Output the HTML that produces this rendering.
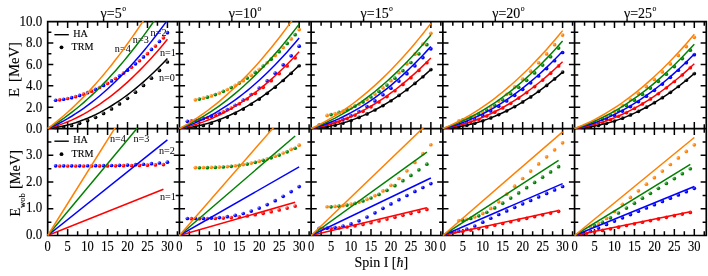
<!DOCTYPE html>
<html><head><meta charset="utf-8"><title>chart</title><style>html,body{margin:0;padding:0;background:#fff}svg{display:block;will-change:transform}text{font-family:"Liberation Serif",serif}</style></head><body>
<svg width="708" height="276" viewBox="0 0 708 276">
<rect width="708" height="276" fill="#fff"/>
<defs><radialGradient id="g0" cx="0.3" cy="0.3" r="0.45" fx="0.3" fy="0.3"><stop offset="0" stop-color="#8c8c8c"/><stop offset="1" stop-color="#000000"/></radialGradient><radialGradient id="g1" cx="0.3" cy="0.3" r="0.45" fx="0.3" fy="0.3"><stop offset="0" stop-color="#ff8c8c"/><stop offset="1" stop-color="#ff0000"/></radialGradient><radialGradient id="g2" cx="0.3" cy="0.3" r="0.45" fx="0.3" fy="0.3"><stop offset="0" stop-color="#8c8cff"/><stop offset="1" stop-color="#0000ff"/></radialGradient><radialGradient id="g3" cx="0.3" cy="0.3" r="0.45" fx="0.3" fy="0.3"><stop offset="0" stop-color="#8cc58c"/><stop offset="1" stop-color="#008000"/></radialGradient><radialGradient id="g4" cx="0.3" cy="0.3" r="0.45" fx="0.3" fy="0.3"><stop offset="0" stop-color="#ffc58c"/><stop offset="1" stop-color="#ff8000"/></radialGradient><clipPath id="ct0"><rect x="47.08" y="21" width="132.92" height="108.15"/></clipPath><clipPath id="cb0"><rect x="47.08" y="127.95" width="132.92" height="108.15"/></clipPath><clipPath id="ct1"><rect x="178.8" y="21" width="132.92" height="108.15"/></clipPath><clipPath id="cb1"><rect x="178.8" y="127.95" width="132.92" height="108.15"/></clipPath><clipPath id="ct2"><rect x="310.52" y="21" width="132.92" height="108.15"/></clipPath><clipPath id="cb2"><rect x="310.52" y="127.95" width="132.92" height="108.15"/></clipPath><clipPath id="ct3"><rect x="442.24" y="21" width="132.92" height="108.15"/></clipPath><clipPath id="cb3"><rect x="442.24" y="127.95" width="132.92" height="108.15"/></clipPath><clipPath id="ct4"><rect x="573.96" y="21" width="132.92" height="108.15"/></clipPath><clipPath id="cb4"><rect x="573.96" y="127.95" width="132.92" height="108.15"/></clipPath></defs>
<path d="M46.83 21.6L707.13 21.6M46.83 128.55L707.13 128.55M46.83 235.5L707.13 235.5M47.68 21.6L47.68 235.5M179.4 21.6L179.4 235.5M311.12 21.6L311.12 235.5M442.84 21.6L442.84 235.5M574.56 21.6L574.56 235.5M706.28 21.6L706.28 235.5" stroke="#000" stroke-width="1.7" fill="none"/><path d="M57.66 21.6L57.66 25.8M57.66 124.35L57.66 132.75M57.66 231.3L57.66 235.5M67.64 21.6L67.64 28.05M67.64 122.1L67.64 135M67.64 229.05L67.64 235.5M77.62 21.6L77.62 25.8M77.62 124.35L77.62 132.75M77.62 231.3L77.62 235.5M87.6 21.6L87.6 28.05M87.6 122.1L87.6 135M87.6 229.05L87.6 235.5M97.57 21.6L97.57 25.8M97.57 124.35L97.57 132.75M97.57 231.3L97.57 235.5M107.55 21.6L107.55 28.05M107.55 122.1L107.55 135M107.55 229.05L107.55 235.5M117.53 21.6L117.53 25.8M117.53 124.35L117.53 132.75M117.53 231.3L117.53 235.5M127.51 21.6L127.51 28.05M127.51 122.1L127.51 135M127.51 229.05L127.51 235.5M137.49 21.6L137.49 25.8M137.49 124.35L137.49 132.75M137.49 231.3L137.49 235.5M147.47 21.6L147.47 28.05M147.47 122.1L147.47 135M147.47 229.05L147.47 235.5M157.45 21.6L157.45 25.8M157.45 124.35L157.45 132.75M157.45 231.3L157.45 235.5M167.43 21.6L167.43 28.05M167.43 122.1L167.43 135M167.43 229.05L167.43 235.5M177.4 21.6L177.4 25.8M177.4 124.35L177.4 132.75M177.4 231.3L177.4 235.5M189.38 21.6L189.38 25.8M189.38 124.35L189.38 132.75M189.38 231.3L189.38 235.5M199.36 21.6L199.36 28.05M199.36 122.1L199.36 135M199.36 229.05L199.36 235.5M209.34 21.6L209.34 25.8M209.34 124.35L209.34 132.75M209.34 231.3L209.34 235.5M219.32 21.6L219.32 28.05M219.32 122.1L219.32 135M219.32 229.05L219.32 235.5M229.29 21.6L229.29 25.8M229.29 124.35L229.29 132.75M229.29 231.3L229.29 235.5M239.27 21.6L239.27 28.05M239.27 122.1L239.27 135M239.27 229.05L239.27 235.5M249.25 21.6L249.25 25.8M249.25 124.35L249.25 132.75M249.25 231.3L249.25 235.5M259.23 21.6L259.23 28.05M259.23 122.1L259.23 135M259.23 229.05L259.23 235.5M269.21 21.6L269.21 25.8M269.21 124.35L269.21 132.75M269.21 231.3L269.21 235.5M279.19 21.6L279.19 28.05M279.19 122.1L279.19 135M279.19 229.05L279.19 235.5M289.17 21.6L289.17 25.8M289.17 124.35L289.17 132.75M289.17 231.3L289.17 235.5M299.15 21.6L299.15 28.05M299.15 122.1L299.15 135M299.15 229.05L299.15 235.5M309.12 21.6L309.12 25.8M309.12 124.35L309.12 132.75M309.12 231.3L309.12 235.5M321.1 21.6L321.1 25.8M321.1 124.35L321.1 132.75M321.1 231.3L321.1 235.5M331.08 21.6L331.08 28.05M331.08 122.1L331.08 135M331.08 229.05L331.08 235.5M341.06 21.6L341.06 25.8M341.06 124.35L341.06 132.75M341.06 231.3L341.06 235.5M351.04 21.6L351.04 28.05M351.04 122.1L351.04 135M351.04 229.05L351.04 235.5M361.01 21.6L361.01 25.8M361.01 124.35L361.01 132.75M361.01 231.3L361.01 235.5M370.99 21.6L370.99 28.05M370.99 122.1L370.99 135M370.99 229.05L370.99 235.5M380.97 21.6L380.97 25.8M380.97 124.35L380.97 132.75M380.97 231.3L380.97 235.5M390.95 21.6L390.95 28.05M390.95 122.1L390.95 135M390.95 229.05L390.95 235.5M400.93 21.6L400.93 25.8M400.93 124.35L400.93 132.75M400.93 231.3L400.93 235.5M410.91 21.6L410.91 28.05M410.91 122.1L410.91 135M410.91 229.05L410.91 235.5M420.89 21.6L420.89 25.8M420.89 124.35L420.89 132.75M420.89 231.3L420.89 235.5M430.87 21.6L430.87 28.05M430.87 122.1L430.87 135M430.87 229.05L430.87 235.5M440.84 21.6L440.84 25.8M440.84 124.35L440.84 132.75M440.84 231.3L440.84 235.5M452.82 21.6L452.82 25.8M452.82 124.35L452.82 132.75M452.82 231.3L452.82 235.5M462.8 21.6L462.8 28.05M462.8 122.1L462.8 135M462.8 229.05L462.8 235.5M472.78 21.6L472.78 25.8M472.78 124.35L472.78 132.75M472.78 231.3L472.78 235.5M482.76 21.6L482.76 28.05M482.76 122.1L482.76 135M482.76 229.05L482.76 235.5M492.73 21.6L492.73 25.8M492.73 124.35L492.73 132.75M492.73 231.3L492.73 235.5M502.71 21.6L502.71 28.05M502.71 122.1L502.71 135M502.71 229.05L502.71 235.5M512.69 21.6L512.69 25.8M512.69 124.35L512.69 132.75M512.69 231.3L512.69 235.5M522.67 21.6L522.67 28.05M522.67 122.1L522.67 135M522.67 229.05L522.67 235.5M532.65 21.6L532.65 25.8M532.65 124.35L532.65 132.75M532.65 231.3L532.65 235.5M542.63 21.6L542.63 28.05M542.63 122.1L542.63 135M542.63 229.05L542.63 235.5M552.61 21.6L552.61 25.8M552.61 124.35L552.61 132.75M552.61 231.3L552.61 235.5M562.59 21.6L562.59 28.05M562.59 122.1L562.59 135M562.59 229.05L562.59 235.5M572.56 21.6L572.56 25.8M572.56 124.35L572.56 132.75M572.56 231.3L572.56 235.5M584.54 21.6L584.54 25.8M584.54 124.35L584.54 132.75M584.54 231.3L584.54 235.5M594.52 21.6L594.52 28.05M594.52 122.1L594.52 135M594.52 229.05L594.52 235.5M604.5 21.6L604.5 25.8M604.5 124.35L604.5 132.75M604.5 231.3L604.5 235.5M614.48 21.6L614.48 28.05M614.48 122.1L614.48 135M614.48 229.05L614.48 235.5M624.45 21.6L624.45 25.8M624.45 124.35L624.45 132.75M624.45 231.3L624.45 235.5M634.43 21.6L634.43 28.05M634.43 122.1L634.43 135M634.43 229.05L634.43 235.5M644.41 21.6L644.41 25.8M644.41 124.35L644.41 132.75M644.41 231.3L644.41 235.5M654.39 21.6L654.39 28.05M654.39 122.1L654.39 135M654.39 229.05L654.39 235.5M664.37 21.6L664.37 25.8M664.37 124.35L664.37 132.75M664.37 231.3L664.37 235.5M674.35 21.6L674.35 28.05M674.35 122.1L674.35 135M674.35 229.05L674.35 235.5M684.33 21.6L684.33 25.8M684.33 124.35L684.33 132.75M684.33 231.3L684.33 235.5M694.31 21.6L694.31 28.05M694.31 122.1L694.31 135M694.31 229.05L694.31 235.5M704.28 21.6L704.28 25.8M704.28 124.35L704.28 132.75M704.28 231.3L704.28 235.5M47.68 117.86L51.38 117.86M47.68 107.16L53.33 107.16M47.68 96.47L51.38 96.47M47.68 85.77L53.33 85.77M47.68 75.08L51.38 75.08M47.68 64.38L53.33 64.38M47.68 53.69L51.38 53.69M47.68 42.99L53.33 42.99M47.68 32.29L51.38 32.29M47.68 222.13L51.38 222.13M47.68 208.76L53.33 208.76M47.68 195.39L51.38 195.39M47.68 182.03L53.33 182.03M47.68 168.66L51.38 168.66M47.68 155.29L53.33 155.29M47.68 141.92L51.38 141.92M175.7 117.86L183.1 117.86M173.75 107.16L185.05 107.16M175.7 96.47L183.1 96.47M173.75 85.77L185.05 85.77M175.7 75.08L183.1 75.08M173.75 64.38L185.05 64.38M175.7 53.69L183.1 53.69M173.75 42.99L185.05 42.99M175.7 32.29L183.1 32.29M175.7 222.13L183.1 222.13M173.75 208.76L185.05 208.76M175.7 195.39L183.1 195.39M173.75 182.03L185.05 182.03M175.7 168.66L183.1 168.66M173.75 155.29L185.05 155.29M175.7 141.92L183.1 141.92M307.42 117.86L314.82 117.86M305.47 107.16L316.77 107.16M307.42 96.47L314.82 96.47M305.47 85.77L316.77 85.77M307.42 75.08L314.82 75.08M305.47 64.38L316.77 64.38M307.42 53.69L314.82 53.69M305.47 42.99L316.77 42.99M307.42 32.29L314.82 32.29M307.42 222.13L314.82 222.13M305.47 208.76L316.77 208.76M307.42 195.39L314.82 195.39M305.47 182.03L316.77 182.03M307.42 168.66L314.82 168.66M305.47 155.29L316.77 155.29M307.42 141.92L314.82 141.92M439.14 117.86L446.54 117.86M437.19 107.16L448.49 107.16M439.14 96.47L446.54 96.47M437.19 85.77L448.49 85.77M439.14 75.08L446.54 75.08M437.19 64.38L448.49 64.38M439.14 53.69L446.54 53.69M437.19 42.99L448.49 42.99M439.14 32.29L446.54 32.29M439.14 222.13L446.54 222.13M437.19 208.76L448.49 208.76M439.14 195.39L446.54 195.39M437.19 182.03L448.49 182.03M439.14 168.66L446.54 168.66M437.19 155.29L448.49 155.29M439.14 141.92L446.54 141.92M570.86 117.86L578.26 117.86M568.91 107.16L580.21 107.16M570.86 96.47L578.26 96.47M568.91 85.77L580.21 85.77M570.86 75.08L578.26 75.08M568.91 64.38L580.21 64.38M570.86 53.69L578.26 53.69M568.91 42.99L580.21 42.99M570.86 32.29L578.26 32.29M570.86 222.13L578.26 222.13M568.91 208.76L580.21 208.76M570.86 195.39L578.26 195.39M568.91 182.03L580.21 182.03M570.86 168.66L578.26 168.66M568.91 155.29L580.21 155.29M570.86 141.92L578.26 141.92M702.58 117.86L706.28 117.86M700.63 107.16L706.28 107.16M702.58 96.47L706.28 96.47M700.63 85.77L706.28 85.77M702.58 75.08L706.28 75.08M700.63 64.38L706.28 64.38M702.58 53.69L706.28 53.69M700.63 42.99L706.28 42.99M702.58 32.29L706.28 32.29M702.58 222.13L706.28 222.13M700.63 208.76L706.28 208.76M702.58 195.39L706.28 195.39M700.63 182.03L706.28 182.03M702.58 168.66L706.28 168.66M700.63 155.29L706.28 155.29M702.58 141.92L706.28 141.92" stroke="#000" stroke-width="1.5" fill="none"/>
<g fill="#000" stroke="#000" stroke-width="0.12"><text transform="translate(42.2,132.95) scale(1,1.15)" font-size="13.0" text-anchor="end">0.0</text>
<text transform="translate(42.2,111.56) scale(1,1.15)" font-size="13.0" text-anchor="end">2.0</text>
<text transform="translate(42.2,90.17) scale(1,1.15)" font-size="13.0" text-anchor="end">4.0</text>
<text transform="translate(42.2,68.78) scale(1,1.15)" font-size="13.0" text-anchor="end">6.0</text>
<text transform="translate(42.2,47.39) scale(1,1.15)" font-size="13.0" text-anchor="end">8.0</text>
<text transform="translate(42.2,26) scale(1,1.15)" font-size="13.0" text-anchor="end">10.0</text>
<text transform="translate(42.2,239.2) scale(1,1.15)" font-size="13.0" text-anchor="end">0.0</text>
<text transform="translate(42.2,212.46) scale(1,1.15)" font-size="13.0" text-anchor="end">1.0</text>
<text transform="translate(42.2,185.72) scale(1,1.15)" font-size="13.0" text-anchor="end">2.0</text>
<text transform="translate(42.2,158.99) scale(1,1.15)" font-size="13.0" text-anchor="end">3.0</text>
<text transform="translate(47.68,251.3) scale(1,1.15)" font-size="12.5" text-anchor="middle">0</text>
<text transform="translate(67.64,251.3) scale(1,1.15)" font-size="12.5" text-anchor="middle">5</text>
<text transform="translate(87.6,251.3) scale(1,1.15)" font-size="12.5" text-anchor="middle">10</text>
<text transform="translate(107.55,251.3) scale(1,1.15)" font-size="12.5" text-anchor="middle">15</text>
<text transform="translate(127.51,251.3) scale(1,1.15)" font-size="12.5" text-anchor="middle">20</text>
<text transform="translate(147.47,251.3) scale(1,1.15)" font-size="12.5" text-anchor="middle">25</text>
<text transform="translate(167.43,251.3) scale(1,1.15)" font-size="12.5" text-anchor="middle">30</text>
<text transform="translate(179.4,251.3) scale(1,1.15)" font-size="12.5" text-anchor="middle">0</text>
<text transform="translate(199.36,251.3) scale(1,1.15)" font-size="12.5" text-anchor="middle">5</text>
<text transform="translate(219.32,251.3) scale(1,1.15)" font-size="12.5" text-anchor="middle">10</text>
<text transform="translate(239.27,251.3) scale(1,1.15)" font-size="12.5" text-anchor="middle">15</text>
<text transform="translate(259.23,251.3) scale(1,1.15)" font-size="12.5" text-anchor="middle">20</text>
<text transform="translate(279.19,251.3) scale(1,1.15)" font-size="12.5" text-anchor="middle">25</text>
<text transform="translate(299.15,251.3) scale(1,1.15)" font-size="12.5" text-anchor="middle">30</text>
<text transform="translate(311.12,251.3) scale(1,1.15)" font-size="12.5" text-anchor="middle">0</text>
<text transform="translate(331.08,251.3) scale(1,1.15)" font-size="12.5" text-anchor="middle">5</text>
<text transform="translate(351.04,251.3) scale(1,1.15)" font-size="12.5" text-anchor="middle">10</text>
<text transform="translate(370.99,251.3) scale(1,1.15)" font-size="12.5" text-anchor="middle">15</text>
<text transform="translate(390.95,251.3) scale(1,1.15)" font-size="12.5" text-anchor="middle">20</text>
<text transform="translate(410.91,251.3) scale(1,1.15)" font-size="12.5" text-anchor="middle">25</text>
<text transform="translate(430.87,251.3) scale(1,1.15)" font-size="12.5" text-anchor="middle">30</text>
<text transform="translate(442.84,251.3) scale(1,1.15)" font-size="12.5" text-anchor="middle">0</text>
<text transform="translate(462.8,251.3) scale(1,1.15)" font-size="12.5" text-anchor="middle">5</text>
<text transform="translate(482.76,251.3) scale(1,1.15)" font-size="12.5" text-anchor="middle">10</text>
<text transform="translate(502.71,251.3) scale(1,1.15)" font-size="12.5" text-anchor="middle">15</text>
<text transform="translate(522.67,251.3) scale(1,1.15)" font-size="12.5" text-anchor="middle">20</text>
<text transform="translate(542.63,251.3) scale(1,1.15)" font-size="12.5" text-anchor="middle">25</text>
<text transform="translate(562.59,251.3) scale(1,1.15)" font-size="12.5" text-anchor="middle">30</text>
<text transform="translate(574.56,251.3) scale(1,1.15)" font-size="12.5" text-anchor="middle">0</text>
<text transform="translate(594.52,251.3) scale(1,1.15)" font-size="12.5" text-anchor="middle">5</text>
<text transform="translate(614.48,251.3) scale(1,1.15)" font-size="12.5" text-anchor="middle">10</text>
<text transform="translate(634.43,251.3) scale(1,1.15)" font-size="12.5" text-anchor="middle">15</text>
<text transform="translate(654.39,251.3) scale(1,1.15)" font-size="12.5" text-anchor="middle">20</text>
<text transform="translate(674.35,251.3) scale(1,1.15)" font-size="12.5" text-anchor="middle">25</text>
<text transform="translate(694.31,251.3) scale(1,1.15)" font-size="12.5" text-anchor="middle">30</text>
<text transform="translate(113.34,17.8) scale(1,1.1)" font-size="14" text-anchor="middle">γ=5<tspan font-size="7.8" dx="0.5" dy="-6.4">o</tspan></text>
<text transform="translate(245.06,17.8) scale(1,1.1)" font-size="14" text-anchor="middle">γ=10<tspan font-size="7.8" dx="0.5" dy="-6.4">o</tspan></text>
<text transform="translate(376.78,17.8) scale(1,1.1)" font-size="14" text-anchor="middle">γ=15<tspan font-size="7.8" dx="0.5" dy="-6.4">o</tspan></text>
<text transform="translate(508.5,17.8) scale(1,1.1)" font-size="14" text-anchor="middle">γ=20<tspan font-size="7.8" dx="0.5" dy="-6.4">o</tspan></text>
<text transform="translate(640.22,17.8) scale(1,1.1)" font-size="14" text-anchor="middle">γ=25<tspan font-size="7.8" dx="0.5" dy="-6.4">o</tspan></text>
<text transform="translate(381.3,266.9) scale(1,1.1)" font-size="14" text-anchor="middle">Spin I [<tspan font-style="italic">ħ</tspan>]</text>
<text transform="translate(18.6,97.0) rotate(-90) scale(1.08,1)" font-size="13.6">E</text>
<text transform="translate(18.6,82.0) rotate(-90) scale(1.08,1)" font-size="13.6">[MeV]</text>
<text transform="translate(19.7,216.4) rotate(-90)" font-size="14.2">E</text>
<text transform="translate(25.0,208.0) rotate(-90)" font-size="8.6">wob</text>
<text transform="translate(19.7,189.0) rotate(-90)" font-size="14.3">[MeV]</text>
<text transform="translate(73.2,36.5) scale(1,1.05)" font-size="10.1">HA</text>
<text transform="translate(71.5,49.9) scale(1,1.05)" font-size="10.1">TRM</text>
<text transform="translate(73.2,143) scale(1,1.05)" font-size="10.1">HA</text>
<text transform="translate(71.5,156.8) scale(1,1.05)" font-size="10.1">TRM</text>
<text transform="translate(150.6,35.7) scale(1,1.06)" font-size="10.2" stroke="none">n=2</text>
<text transform="translate(132.8,43.3) scale(1,1.06)" font-size="10.2" stroke="none">n=3</text>
<text transform="translate(114.8,51.8) scale(1,1.06)" font-size="10.2" stroke="none">n=4</text>
<text transform="translate(160,55.7) scale(1,1.06)" font-size="10.2" stroke="none">n=1</text>
<text transform="translate(159,80.8) scale(1,1.06)" font-size="10.2" stroke="none">n=0</text>
<text transform="translate(109.9,142.1) scale(1,1.06)" font-size="10.2" stroke="none">n=4</text>
<text transform="translate(133.5,142.1) scale(1,1.06)" font-size="10.2" stroke="none">n=3</text>
<text transform="translate(159,154.1) scale(1,1.06)" font-size="10.2" stroke="none">n=2</text>
<text transform="translate(160,200) scale(1,1.06)" font-size="10.2" stroke="none">n=1</text></g>
<path d="M54.4 34.7L68.8 34.7" stroke="#000" stroke-width="1.4"/>
<circle cx="61.5" cy="47.3" r="1.9" fill="#000"/>
<path d="M54.4 141.2L68.8 141.2" stroke="#000" stroke-width="1.4"/>
<circle cx="61.5" cy="154.2" r="1.9" fill="#000"/>
<g clip-path="url(#ct0)">
<circle cx="47.68" cy="128.55" r="1.85" fill="url(#g0)"/>
<circle cx="55.66" cy="128.12" r="1.85" fill="url(#g0)"/>
<circle cx="63.65" cy="127.1" r="1.85" fill="url(#g0)"/>
<circle cx="71.63" cy="125.51" r="1.85" fill="url(#g0)"/>
<circle cx="79.61" cy="123.34" r="1.85" fill="url(#g0)"/>
<circle cx="87.6" cy="120.6" r="1.85" fill="url(#g0)"/>
<circle cx="95.58" cy="117.28" r="1.85" fill="url(#g0)"/>
<circle cx="103.56" cy="113.39" r="1.85" fill="url(#g0)"/>
<circle cx="111.54" cy="108.93" r="1.85" fill="url(#g0)"/>
<circle cx="119.53" cy="103.9" r="1.85" fill="url(#g0)"/>
<circle cx="127.51" cy="98.31" r="1.85" fill="url(#g0)"/>
<circle cx="135.49" cy="92.16" r="1.85" fill="url(#g0)"/>
<circle cx="143.48" cy="85.45" r="1.85" fill="url(#g0)"/>
<circle cx="151.46" cy="78.19" r="1.85" fill="url(#g0)"/>
<circle cx="159.44" cy="70.38" r="1.85" fill="url(#g0)"/>
<circle cx="167.43" cy="62.02" r="1.85" fill="url(#g0)"/>
<circle cx="59.65" cy="99.81" r="1.85" fill="url(#g1)"/>
<circle cx="67.64" cy="98.51" r="1.85" fill="url(#g1)"/>
<circle cx="75.62" cy="96.63" r="1.85" fill="url(#g1)"/>
<circle cx="83.6" cy="94.17" r="1.85" fill="url(#g1)"/>
<circle cx="91.59" cy="91.13" r="1.85" fill="url(#g1)"/>
<circle cx="99.57" cy="87.51" r="1.85" fill="url(#g1)"/>
<circle cx="107.55" cy="83.31" r="1.85" fill="url(#g1)"/>
<circle cx="115.54" cy="78.54" r="1.85" fill="url(#g1)"/>
<circle cx="123.52" cy="73.19" r="1.85" fill="url(#g1)"/>
<circle cx="131.5" cy="67.27" r="1.85" fill="url(#g1)"/>
<circle cx="139.48" cy="60.76" r="1.85" fill="url(#g1)"/>
<circle cx="147.47" cy="53.69" r="1.85" fill="url(#g1)"/>
<circle cx="155.45" cy="46.04" r="1.85" fill="url(#g1)"/>
<circle cx="163.43" cy="37.81" r="1.85" fill="url(#g1)"/>
<circle cx="55.66" cy="100.25" r="1.85" fill="url(#g2)"/>
<circle cx="63.65" cy="99.23" r="1.85" fill="url(#g2)"/>
<circle cx="71.63" cy="97.64" r="1.85" fill="url(#g2)"/>
<circle cx="79.61" cy="95.46" r="1.85" fill="url(#g2)"/>
<circle cx="87.6" cy="92.71" r="1.85" fill="url(#g2)"/>
<circle cx="95.58" cy="89.37" r="1.85" fill="url(#g2)"/>
<circle cx="103.56" cy="85.44" r="1.85" fill="url(#g2)"/>
<circle cx="111.54" cy="80.93" r="1.85" fill="url(#g2)"/>
<circle cx="119.53" cy="75.83" r="1.85" fill="url(#g2)"/>
<circle cx="127.51" cy="70.13" r="1.85" fill="url(#g2)"/>
<circle cx="135.49" cy="63.84" r="1.85" fill="url(#g2)"/>
<circle cx="143.48" cy="56.96" r="1.85" fill="url(#g2)"/>
<circle cx="151.46" cy="49.47" r="1.85" fill="url(#g2)"/>
<circle cx="159.44" cy="41.38" r="1.85" fill="url(#g2)"/>
<circle cx="167.43" cy="32.68" r="1.85" fill="url(#g2)"/>
<circle cx="67.64" cy="14.9" r="1.85" fill="url(#g3)"/>
<circle cx="75.62" cy="13.02" r="1.85" fill="url(#g3)"/>
<circle cx="83.6" cy="10.56" r="1.85" fill="url(#g3)"/>
<circle cx="91.59" cy="7.51" r="1.85" fill="url(#g3)"/>
<circle cx="99.57" cy="3.89" r="1.85" fill="url(#g3)"/>
<circle cx="107.55" cy="-0.31" r="1.85" fill="url(#g3)"/>
<circle cx="115.54" cy="-5.09" r="1.85" fill="url(#g3)"/>
<circle cx="123.52" cy="-10.45" r="1.85" fill="url(#g3)"/>
<circle cx="131.5" cy="-16.39" r="1.85" fill="url(#g3)"/>
<circle cx="139.48" cy="-22.91" r="1.85" fill="url(#g3)"/>
<circle cx="147.47" cy="-30.01" r="1.85" fill="url(#g3)"/>
<circle cx="155.45" cy="-37.7" r="1.85" fill="url(#g3)"/>
<circle cx="163.43" cy="-45.96" r="1.85" fill="url(#g3)"/>
<circle cx="63.65" cy="15.62" r="1.85" fill="url(#g4)"/>
<circle cx="71.63" cy="14.03" r="1.85" fill="url(#g4)"/>
<circle cx="79.61" cy="11.86" r="1.85" fill="url(#g4)"/>
<circle cx="87.6" cy="9.11" r="1.85" fill="url(#g4)"/>
<circle cx="95.58" cy="5.78" r="1.85" fill="url(#g4)"/>
<circle cx="103.56" cy="1.87" r="1.85" fill="url(#g4)"/>
<circle cx="111.54" cy="-2.63" r="1.85" fill="url(#g4)"/>
<circle cx="119.53" cy="-7.7" r="1.85" fill="url(#g4)"/>
<circle cx="127.51" cy="-13.35" r="1.85" fill="url(#g4)"/>
<circle cx="135.49" cy="-19.58" r="1.85" fill="url(#g4)"/>
<circle cx="143.48" cy="-26.39" r="1.85" fill="url(#g4)"/>
<circle cx="151.46" cy="-33.78" r="1.85" fill="url(#g4)"/>
<circle cx="159.44" cy="-41.76" r="1.85" fill="url(#g4)"/>
<circle cx="167.43" cy="-50.32" r="1.85" fill="url(#g4)"/>
</g>
<g clip-path="url(#cb0)">
<circle cx="59.65" cy="166.01" r="1.85" fill="url(#g1)"/>
<circle cx="67.64" cy="166" r="1.85" fill="url(#g1)"/>
<circle cx="75.62" cy="166" r="1.85" fill="url(#g1)"/>
<circle cx="83.6" cy="165.99" r="1.85" fill="url(#g1)"/>
<circle cx="91.59" cy="165.97" r="1.85" fill="url(#g1)"/>
<circle cx="99.57" cy="165.94" r="1.85" fill="url(#g1)"/>
<circle cx="107.55" cy="165.89" r="1.85" fill="url(#g1)"/>
<circle cx="115.54" cy="165.82" r="1.85" fill="url(#g1)"/>
<circle cx="123.52" cy="165.72" r="1.85" fill="url(#g1)"/>
<circle cx="131.5" cy="165.58" r="1.85" fill="url(#g1)"/>
<circle cx="139.48" cy="165.4" r="1.85" fill="url(#g1)"/>
<circle cx="147.47" cy="165.17" r="1.85" fill="url(#g1)"/>
<circle cx="155.45" cy="164.88" r="1.85" fill="url(#g1)"/>
<circle cx="163.43" cy="164.53" r="1.85" fill="url(#g1)"/>
<circle cx="55.66" cy="165.83" r="1.85" fill="url(#g2)"/>
<circle cx="63.65" cy="165.82" r="1.85" fill="url(#g2)"/>
<circle cx="71.63" cy="165.82" r="1.85" fill="url(#g2)"/>
<circle cx="79.61" cy="165.8" r="1.85" fill="url(#g2)"/>
<circle cx="87.6" cy="165.77" r="1.85" fill="url(#g2)"/>
<circle cx="95.58" cy="165.72" r="1.85" fill="url(#g2)"/>
<circle cx="103.56" cy="165.63" r="1.85" fill="url(#g2)"/>
<circle cx="111.54" cy="165.5" r="1.85" fill="url(#g2)"/>
<circle cx="119.53" cy="165.32" r="1.85" fill="url(#g2)"/>
<circle cx="127.51" cy="165.06" r="1.85" fill="url(#g2)"/>
<circle cx="135.49" cy="164.72" r="1.85" fill="url(#g2)"/>
<circle cx="143.48" cy="164.27" r="1.85" fill="url(#g2)"/>
<circle cx="151.46" cy="163.71" r="1.85" fill="url(#g2)"/>
<circle cx="159.44" cy="163" r="1.85" fill="url(#g2)"/>
<circle cx="167.43" cy="162.15" r="1.85" fill="url(#g2)"/>
<circle cx="67.64" cy="-43.02" r="1.85" fill="url(#g3)"/>
<circle cx="75.62" cy="-43.02" r="1.85" fill="url(#g3)"/>
<circle cx="83.6" cy="-43.04" r="1.85" fill="url(#g3)"/>
<circle cx="91.59" cy="-43.06" r="1.85" fill="url(#g3)"/>
<circle cx="99.57" cy="-43.1" r="1.85" fill="url(#g3)"/>
<circle cx="107.55" cy="-43.16" r="1.85" fill="url(#g3)"/>
<circle cx="115.54" cy="-43.26" r="1.85" fill="url(#g3)"/>
<circle cx="123.52" cy="-43.39" r="1.85" fill="url(#g3)"/>
<circle cx="131.5" cy="-43.56" r="1.85" fill="url(#g3)"/>
<circle cx="139.48" cy="-43.79" r="1.85" fill="url(#g3)"/>
<circle cx="147.47" cy="-44.09" r="1.85" fill="url(#g3)"/>
<circle cx="155.45" cy="-44.46" r="1.85" fill="url(#g3)"/>
<circle cx="163.43" cy="-44.91" r="1.85" fill="url(#g3)"/>
<circle cx="63.65" cy="-43.2" r="1.85" fill="url(#g4)"/>
<circle cx="71.63" cy="-43.2" r="1.85" fill="url(#g4)"/>
<circle cx="79.61" cy="-43.21" r="1.85" fill="url(#g4)"/>
<circle cx="87.6" cy="-43.23" r="1.85" fill="url(#g4)"/>
<circle cx="95.58" cy="-43.26" r="1.85" fill="url(#g4)"/>
<circle cx="103.56" cy="-43.31" r="1.85" fill="url(#g4)"/>
<circle cx="111.54" cy="-43.38" r="1.85" fill="url(#g4)"/>
<circle cx="119.53" cy="-43.49" r="1.85" fill="url(#g4)"/>
<circle cx="127.51" cy="-43.64" r="1.85" fill="url(#g4)"/>
<circle cx="135.49" cy="-43.84" r="1.85" fill="url(#g4)"/>
<circle cx="143.48" cy="-44.1" r="1.85" fill="url(#g4)"/>
<circle cx="151.46" cy="-44.43" r="1.85" fill="url(#g4)"/>
<circle cx="159.44" cy="-44.84" r="1.85" fill="url(#g4)"/>
<circle cx="167.43" cy="-45.35" r="1.85" fill="url(#g4)"/>
</g>
<g clip-path="url(#ct1)">
<circle cx="179.4" cy="128.55" r="1.85" fill="url(#g0)"/>
<circle cx="187.38" cy="128.1" r="1.85" fill="url(#g0)"/>
<circle cx="195.37" cy="127.04" r="1.85" fill="url(#g0)"/>
<circle cx="203.35" cy="125.39" r="1.85" fill="url(#g0)"/>
<circle cx="211.33" cy="123.18" r="1.85" fill="url(#g0)"/>
<circle cx="219.32" cy="120.41" r="1.85" fill="url(#g0)"/>
<circle cx="227.3" cy="117.11" r="1.85" fill="url(#g0)"/>
<circle cx="235.28" cy="113.31" r="1.85" fill="url(#g0)"/>
<circle cx="243.26" cy="109.03" r="1.85" fill="url(#g0)"/>
<circle cx="251.25" cy="104.26" r="1.85" fill="url(#g0)"/>
<circle cx="259.23" cy="99.03" r="1.85" fill="url(#g0)"/>
<circle cx="267.21" cy="93.32" r="1.85" fill="url(#g0)"/>
<circle cx="275.2" cy="87.14" r="1.85" fill="url(#g0)"/>
<circle cx="283.18" cy="80.48" r="1.85" fill="url(#g0)"/>
<circle cx="291.16" cy="73.35" r="1.85" fill="url(#g0)"/>
<circle cx="299.15" cy="65.73" r="1.85" fill="url(#g0)"/>
<circle cx="191.37" cy="120.85" r="1.85" fill="url(#g1)"/>
<circle cx="199.36" cy="119.49" r="1.85" fill="url(#g1)"/>
<circle cx="207.34" cy="117.52" r="1.85" fill="url(#g1)"/>
<circle cx="215.32" cy="114.95" r="1.85" fill="url(#g1)"/>
<circle cx="223.31" cy="111.79" r="1.85" fill="url(#g1)"/>
<circle cx="231.29" cy="108.04" r="1.85" fill="url(#g1)"/>
<circle cx="239.27" cy="103.71" r="1.85" fill="url(#g1)"/>
<circle cx="247.26" cy="98.8" r="1.85" fill="url(#g1)"/>
<circle cx="255.24" cy="93.33" r="1.85" fill="url(#g1)"/>
<circle cx="263.22" cy="87.3" r="1.85" fill="url(#g1)"/>
<circle cx="271.2" cy="80.72" r="1.85" fill="url(#g1)"/>
<circle cx="279.19" cy="73.6" r="1.85" fill="url(#g1)"/>
<circle cx="287.17" cy="65.95" r="1.85" fill="url(#g1)"/>
<circle cx="295.15" cy="57.78" r="1.85" fill="url(#g1)"/>
<circle cx="187.38" cy="121.3" r="1.85" fill="url(#g2)"/>
<circle cx="195.37" cy="120.24" r="1.85" fill="url(#g2)"/>
<circle cx="203.35" cy="118.55" r="1.85" fill="url(#g2)"/>
<circle cx="211.33" cy="116.22" r="1.85" fill="url(#g2)"/>
<circle cx="219.32" cy="113.25" r="1.85" fill="url(#g2)"/>
<circle cx="227.3" cy="109.6" r="1.85" fill="url(#g2)"/>
<circle cx="235.28" cy="105.26" r="1.85" fill="url(#g2)"/>
<circle cx="243.26" cy="100.22" r="1.85" fill="url(#g2)"/>
<circle cx="251.25" cy="94.49" r="1.85" fill="url(#g2)"/>
<circle cx="259.23" cy="88.07" r="1.85" fill="url(#g2)"/>
<circle cx="267.21" cy="80.96" r="1.85" fill="url(#g2)"/>
<circle cx="275.2" cy="73.2" r="1.85" fill="url(#g2)"/>
<circle cx="283.18" cy="64.8" r="1.85" fill="url(#g2)"/>
<circle cx="291.16" cy="55.78" r="1.85" fill="url(#g2)"/>
<circle cx="299.15" cy="46.17" r="1.85" fill="url(#g2)"/>
<circle cx="199.36" cy="99.11" r="1.85" fill="url(#g3)"/>
<circle cx="207.34" cy="97.14" r="1.85" fill="url(#g3)"/>
<circle cx="215.32" cy="94.55" r="1.85" fill="url(#g3)"/>
<circle cx="223.31" cy="91.35" r="1.85" fill="url(#g3)"/>
<circle cx="231.29" cy="87.54" r="1.85" fill="url(#g3)"/>
<circle cx="239.27" cy="83.11" r="1.85" fill="url(#g3)"/>
<circle cx="247.26" cy="78.07" r="1.85" fill="url(#g3)"/>
<circle cx="255.24" cy="72.4" r="1.85" fill="url(#g3)"/>
<circle cx="263.22" cy="66.1" r="1.85" fill="url(#g3)"/>
<circle cx="271.2" cy="59.18" r="1.85" fill="url(#g3)"/>
<circle cx="279.19" cy="51.63" r="1.85" fill="url(#g3)"/>
<circle cx="287.17" cy="43.44" r="1.85" fill="url(#g3)"/>
<circle cx="295.15" cy="34.63" r="1.85" fill="url(#g3)"/>
<circle cx="195.37" cy="99.87" r="1.85" fill="url(#g4)"/>
<circle cx="203.35" cy="98.2" r="1.85" fill="url(#g4)"/>
<circle cx="211.33" cy="95.92" r="1.85" fill="url(#g4)"/>
<circle cx="219.32" cy="93.03" r="1.85" fill="url(#g4)"/>
<circle cx="227.3" cy="89.52" r="1.85" fill="url(#g4)"/>
<circle cx="235.28" cy="85.4" r="1.85" fill="url(#g4)"/>
<circle cx="243.26" cy="80.66" r="1.85" fill="url(#g4)"/>
<circle cx="251.25" cy="75.3" r="1.85" fill="url(#g4)"/>
<circle cx="259.23" cy="69.31" r="1.85" fill="url(#g4)"/>
<circle cx="267.21" cy="62.68" r="1.85" fill="url(#g4)"/>
<circle cx="275.2" cy="55.41" r="1.85" fill="url(#g4)"/>
<circle cx="283.18" cy="47.48" r="1.85" fill="url(#g4)"/>
<circle cx="291.16" cy="38.88" r="1.85" fill="url(#g4)"/>
<circle cx="299.15" cy="29.6" r="1.85" fill="url(#g4)"/>
</g>
<g clip-path="url(#cb1)">
<circle cx="191.37" cy="218.71" r="1.85" fill="url(#g1)"/>
<circle cx="199.36" cy="218.67" r="1.85" fill="url(#g1)"/>
<circle cx="207.34" cy="218.59" r="1.85" fill="url(#g1)"/>
<circle cx="215.32" cy="218.4" r="1.85" fill="url(#g1)"/>
<circle cx="223.31" cy="218.08" r="1.85" fill="url(#g1)"/>
<circle cx="231.29" cy="217.57" r="1.85" fill="url(#g1)"/>
<circle cx="239.27" cy="216.85" r="1.85" fill="url(#g1)"/>
<circle cx="247.26" cy="215.89" r="1.85" fill="url(#g1)"/>
<circle cx="255.24" cy="214.71" r="1.85" fill="url(#g1)"/>
<circle cx="263.22" cy="213.31" r="1.85" fill="url(#g1)"/>
<circle cx="271.2" cy="211.72" r="1.85" fill="url(#g1)"/>
<circle cx="279.19" cy="209.97" r="1.85" fill="url(#g1)"/>
<circle cx="287.17" cy="208.08" r="1.85" fill="url(#g1)"/>
<circle cx="295.15" cy="206.09" r="1.85" fill="url(#g1)"/>
<circle cx="187.38" cy="218.52" r="1.85" fill="url(#g2)"/>
<circle cx="195.37" cy="218.49" r="1.85" fill="url(#g2)"/>
<circle cx="203.35" cy="218.39" r="1.85" fill="url(#g2)"/>
<circle cx="211.33" cy="218.12" r="1.85" fill="url(#g2)"/>
<circle cx="219.32" cy="217.6" r="1.85" fill="url(#g2)"/>
<circle cx="227.3" cy="216.71" r="1.85" fill="url(#g2)"/>
<circle cx="235.28" cy="215.37" r="1.85" fill="url(#g2)"/>
<circle cx="243.26" cy="213.49" r="1.85" fill="url(#g2)"/>
<circle cx="251.25" cy="211.07" r="1.85" fill="url(#g2)"/>
<circle cx="259.23" cy="208.09" r="1.85" fill="url(#g2)"/>
<circle cx="267.21" cy="204.61" r="1.85" fill="url(#g2)"/>
<circle cx="275.2" cy="200.65" r="1.85" fill="url(#g2)"/>
<circle cx="283.18" cy="196.28" r="1.85" fill="url(#g2)"/>
<circle cx="291.16" cy="191.57" r="1.85" fill="url(#g2)"/>
<circle cx="299.15" cy="186.59" r="1.85" fill="url(#g2)"/>
<circle cx="199.36" cy="167.74" r="1.85" fill="url(#g3)"/>
<circle cx="207.34" cy="167.63" r="1.85" fill="url(#g3)"/>
<circle cx="215.32" cy="167.4" r="1.85" fill="url(#g3)"/>
<circle cx="223.31" cy="166.99" r="1.85" fill="url(#g3)"/>
<circle cx="231.29" cy="166.33" r="1.85" fill="url(#g3)"/>
<circle cx="239.27" cy="165.36" r="1.85" fill="url(#g3)"/>
<circle cx="247.26" cy="164.05" r="1.85" fill="url(#g3)"/>
<circle cx="255.24" cy="162.37" r="1.85" fill="url(#g3)"/>
<circle cx="263.22" cy="160.31" r="1.85" fill="url(#g3)"/>
<circle cx="271.2" cy="157.87" r="1.85" fill="url(#g3)"/>
<circle cx="279.19" cy="155.03" r="1.85" fill="url(#g3)"/>
<circle cx="287.17" cy="151.82" r="1.85" fill="url(#g3)"/>
<circle cx="295.15" cy="148.23" r="1.85" fill="url(#g3)"/>
<circle cx="195.37" cy="167.58" r="1.85" fill="url(#g4)"/>
<circle cx="203.35" cy="167.52" r="1.85" fill="url(#g4)"/>
<circle cx="211.33" cy="167.36" r="1.85" fill="url(#g4)"/>
<circle cx="219.32" cy="167.06" r="1.85" fill="url(#g4)"/>
<circle cx="227.3" cy="166.53" r="1.85" fill="url(#g4)"/>
<circle cx="235.28" cy="165.73" r="1.85" fill="url(#g4)"/>
<circle cx="243.26" cy="164.59" r="1.85" fill="url(#g4)"/>
<circle cx="251.25" cy="163.09" r="1.85" fill="url(#g4)"/>
<circle cx="259.23" cy="161.2" r="1.85" fill="url(#g4)"/>
<circle cx="267.21" cy="158.9" r="1.85" fill="url(#g4)"/>
<circle cx="275.2" cy="156.17" r="1.85" fill="url(#g4)"/>
<circle cx="283.18" cy="152.99" r="1.85" fill="url(#g4)"/>
<circle cx="291.16" cy="149.34" r="1.85" fill="url(#g4)"/>
<circle cx="299.15" cy="145.17" r="1.85" fill="url(#g4)"/>
</g>
<g clip-path="url(#ct2)">
<circle cx="311.12" cy="128.55" r="1.85" fill="url(#g0)"/>
<circle cx="319.1" cy="128.06" r="1.85" fill="url(#g0)"/>
<circle cx="327.09" cy="126.95" r="1.85" fill="url(#g0)"/>
<circle cx="335.07" cy="125.27" r="1.85" fill="url(#g0)"/>
<circle cx="343.05" cy="123.11" r="1.85" fill="url(#g0)"/>
<circle cx="351.04" cy="120.5" r="1.85" fill="url(#g0)"/>
<circle cx="359.02" cy="117.45" r="1.85" fill="url(#g0)"/>
<circle cx="367" cy="113.96" r="1.85" fill="url(#g0)"/>
<circle cx="374.98" cy="110.01" r="1.85" fill="url(#g0)"/>
<circle cx="382.97" cy="105.61" r="1.85" fill="url(#g0)"/>
<circle cx="390.95" cy="100.75" r="1.85" fill="url(#g0)"/>
<circle cx="398.93" cy="95.44" r="1.85" fill="url(#g0)"/>
<circle cx="406.92" cy="89.67" r="1.85" fill="url(#g0)"/>
<circle cx="414.9" cy="83.44" r="1.85" fill="url(#g0)"/>
<circle cx="422.88" cy="76.75" r="1.85" fill="url(#g0)"/>
<circle cx="430.87" cy="69.6" r="1.85" fill="url(#g0)"/>
<circle cx="323.09" cy="124.7" r="1.85" fill="url(#g1)"/>
<circle cx="331.08" cy="123.23" r="1.85" fill="url(#g1)"/>
<circle cx="339.06" cy="121.13" r="1.85" fill="url(#g1)"/>
<circle cx="347.04" cy="118.41" r="1.85" fill="url(#g1)"/>
<circle cx="355.03" cy="115.11" r="1.85" fill="url(#g1)"/>
<circle cx="363.01" cy="111.25" r="1.85" fill="url(#g1)"/>
<circle cx="370.99" cy="106.87" r="1.85" fill="url(#g1)"/>
<circle cx="378.98" cy="101.98" r="1.85" fill="url(#g1)"/>
<circle cx="386.96" cy="96.61" r="1.85" fill="url(#g1)"/>
<circle cx="394.94" cy="90.76" r="1.85" fill="url(#g1)"/>
<circle cx="402.92" cy="84.45" r="1.85" fill="url(#g1)"/>
<circle cx="410.91" cy="77.68" r="1.85" fill="url(#g1)"/>
<circle cx="418.89" cy="70.45" r="1.85" fill="url(#g1)"/>
<circle cx="426.87" cy="62.76" r="1.85" fill="url(#g1)"/>
<circle cx="319.1" cy="125.19" r="1.85" fill="url(#g2)"/>
<circle cx="327.09" cy="124.01" r="1.85" fill="url(#g2)"/>
<circle cx="335.07" cy="122.08" r="1.85" fill="url(#g2)"/>
<circle cx="343.05" cy="119.37" r="1.85" fill="url(#g2)"/>
<circle cx="351.04" cy="115.85" r="1.85" fill="url(#g2)"/>
<circle cx="359.02" cy="111.56" r="1.85" fill="url(#g2)"/>
<circle cx="367" cy="106.56" r="1.85" fill="url(#g2)"/>
<circle cx="374.98" cy="100.93" r="1.85" fill="url(#g2)"/>
<circle cx="382.97" cy="94.76" r="1.85" fill="url(#g2)"/>
<circle cx="390.95" cy="88.13" r="1.85" fill="url(#g2)"/>
<circle cx="398.93" cy="81.1" r="1.85" fill="url(#g2)"/>
<circle cx="406.92" cy="73.66" r="1.85" fill="url(#g2)"/>
<circle cx="414.9" cy="65.82" r="1.85" fill="url(#g2)"/>
<circle cx="422.88" cy="57.54" r="1.85" fill="url(#g2)"/>
<circle cx="430.87" cy="48.82" r="1.85" fill="url(#g2)"/>
<circle cx="331.08" cy="114.62" r="1.85" fill="url(#g3)"/>
<circle cx="339.06" cy="112.46" r="1.85" fill="url(#g3)"/>
<circle cx="347.04" cy="109.63" r="1.85" fill="url(#g3)"/>
<circle cx="355.03" cy="106.11" r="1.85" fill="url(#g3)"/>
<circle cx="363.01" cy="101.89" r="1.85" fill="url(#g3)"/>
<circle cx="370.99" cy="96.98" r="1.85" fill="url(#g3)"/>
<circle cx="378.98" cy="91.38" r="1.85" fill="url(#g3)"/>
<circle cx="386.96" cy="85.11" r="1.85" fill="url(#g3)"/>
<circle cx="394.94" cy="78.18" r="1.85" fill="url(#g3)"/>
<circle cx="402.92" cy="70.64" r="1.85" fill="url(#g3)"/>
<circle cx="410.91" cy="62.51" r="1.85" fill="url(#g3)"/>
<circle cx="418.89" cy="53.84" r="1.85" fill="url(#g3)"/>
<circle cx="426.87" cy="44.65" r="1.85" fill="url(#g3)"/>
<circle cx="327.09" cy="115.45" r="1.85" fill="url(#g4)"/>
<circle cx="335.07" cy="113.63" r="1.85" fill="url(#g4)"/>
<circle cx="343.05" cy="111.13" r="1.85" fill="url(#g4)"/>
<circle cx="351.04" cy="107.95" r="1.85" fill="url(#g4)"/>
<circle cx="359.02" cy="104.06" r="1.85" fill="url(#g4)"/>
<circle cx="367" cy="99.44" r="1.85" fill="url(#g4)"/>
<circle cx="374.98" cy="94.03" r="1.85" fill="url(#g4)"/>
<circle cx="382.97" cy="87.78" r="1.85" fill="url(#g4)"/>
<circle cx="390.95" cy="80.65" r="1.85" fill="url(#g4)"/>
<circle cx="398.93" cy="72.64" r="1.85" fill="url(#g4)"/>
<circle cx="406.92" cy="63.8" r="1.85" fill="url(#g4)"/>
<circle cx="414.9" cy="54.22" r="1.85" fill="url(#g4)"/>
<circle cx="422.88" cy="44.01" r="1.85" fill="url(#g4)"/>
<circle cx="430.87" cy="33.29" r="1.85" fill="url(#g4)"/>
</g>
<g clip-path="url(#cb2)">
<circle cx="323.09" cy="228.49" r="1.85" fill="url(#g1)"/>
<circle cx="331.08" cy="228.3" r="1.85" fill="url(#g1)"/>
<circle cx="339.06" cy="227.84" r="1.85" fill="url(#g1)"/>
<circle cx="347.04" cy="227.01" r="1.85" fill="url(#g1)"/>
<circle cx="355.03" cy="225.84" r="1.85" fill="url(#g1)"/>
<circle cx="363.01" cy="224.38" r="1.85" fill="url(#g1)"/>
<circle cx="370.99" cy="222.71" r="1.85" fill="url(#g1)"/>
<circle cx="378.98" cy="220.92" r="1.85" fill="url(#g1)"/>
<circle cx="386.96" cy="219.06" r="1.85" fill="url(#g1)"/>
<circle cx="394.94" cy="217.16" r="1.85" fill="url(#g1)"/>
<circle cx="402.92" cy="215.24" r="1.85" fill="url(#g1)"/>
<circle cx="410.91" cy="213.32" r="1.85" fill="url(#g1)"/>
<circle cx="418.89" cy="211.39" r="1.85" fill="url(#g1)"/>
<circle cx="426.87" cy="209.46" r="1.85" fill="url(#g1)"/>
<circle cx="319.1" cy="228.33" r="1.85" fill="url(#g2)"/>
<circle cx="327.09" cy="228.15" r="1.85" fill="url(#g2)"/>
<circle cx="335.07" cy="227.53" r="1.85" fill="url(#g2)"/>
<circle cx="343.05" cy="226.16" r="1.85" fill="url(#g2)"/>
<circle cx="351.04" cy="223.89" r="1.85" fill="url(#g2)"/>
<circle cx="359.02" cy="220.79" r="1.85" fill="url(#g2)"/>
<circle cx="367" cy="217.02" r="1.85" fill="url(#g2)"/>
<circle cx="374.98" cy="212.79" r="1.85" fill="url(#g2)"/>
<circle cx="382.97" cy="208.36" r="1.85" fill="url(#g2)"/>
<circle cx="390.95" cy="203.94" r="1.85" fill="url(#g2)"/>
<circle cx="398.93" cy="199.64" r="1.85" fill="url(#g2)"/>
<circle cx="406.92" cy="195.49" r="1.85" fill="url(#g2)"/>
<circle cx="414.9" cy="191.45" r="1.85" fill="url(#g2)"/>
<circle cx="422.88" cy="187.48" r="1.85" fill="url(#g2)"/>
<circle cx="430.87" cy="183.56" r="1.85" fill="url(#g2)"/>
<circle cx="331.08" cy="206.78" r="1.85" fill="url(#g3)"/>
<circle cx="339.06" cy="206.18" r="1.85" fill="url(#g3)"/>
<circle cx="347.04" cy="205.06" r="1.85" fill="url(#g3)"/>
<circle cx="355.03" cy="203.33" r="1.85" fill="url(#g3)"/>
<circle cx="363.01" cy="200.98" r="1.85" fill="url(#g3)"/>
<circle cx="370.99" cy="198" r="1.85" fill="url(#g3)"/>
<circle cx="378.98" cy="194.43" r="1.85" fill="url(#g3)"/>
<circle cx="386.96" cy="190.31" r="1.85" fill="url(#g3)"/>
<circle cx="394.94" cy="185.71" r="1.85" fill="url(#g3)"/>
<circle cx="402.92" cy="180.71" r="1.85" fill="url(#g3)"/>
<circle cx="410.91" cy="175.4" r="1.85" fill="url(#g3)"/>
<circle cx="418.89" cy="169.86" r="1.85" fill="url(#g3)"/>
<circle cx="426.87" cy="164.18" r="1.85" fill="url(#g3)"/>
<circle cx="327.09" cy="206.75" r="1.85" fill="url(#g4)"/>
<circle cx="335.07" cy="206.38" r="1.85" fill="url(#g4)"/>
<circle cx="343.05" cy="205.55" r="1.85" fill="url(#g4)"/>
<circle cx="351.04" cy="204.12" r="1.85" fill="url(#g4)"/>
<circle cx="359.02" cy="202.03" r="1.85" fill="url(#g4)"/>
<circle cx="367" cy="199.2" r="1.85" fill="url(#g4)"/>
<circle cx="374.98" cy="195.54" r="1.85" fill="url(#g4)"/>
<circle cx="382.97" cy="190.92" r="1.85" fill="url(#g4)"/>
<circle cx="390.95" cy="185.24" r="1.85" fill="url(#g4)"/>
<circle cx="398.93" cy="178.5" r="1.85" fill="url(#g4)"/>
<circle cx="406.92" cy="170.83" r="1.85" fill="url(#g4)"/>
<circle cx="414.9" cy="162.46" r="1.85" fill="url(#g4)"/>
<circle cx="422.88" cy="153.66" r="1.85" fill="url(#g4)"/>
<circle cx="430.87" cy="144.73" r="1.85" fill="url(#g4)"/>
</g>
<g clip-path="url(#ct3)">
<circle cx="442.84" cy="128.55" r="1.85" fill="url(#g0)"/>
<circle cx="450.82" cy="128.01" r="1.85" fill="url(#g0)"/>
<circle cx="458.81" cy="126.86" r="1.85" fill="url(#g0)"/>
<circle cx="466.79" cy="125.26" r="1.85" fill="url(#g0)"/>
<circle cx="474.77" cy="123.24" r="1.85" fill="url(#g0)"/>
<circle cx="482.76" cy="120.8" r="1.85" fill="url(#g0)"/>
<circle cx="490.74" cy="117.91" r="1.85" fill="url(#g0)"/>
<circle cx="498.72" cy="114.59" r="1.85" fill="url(#g0)"/>
<circle cx="506.7" cy="110.82" r="1.85" fill="url(#g0)"/>
<circle cx="514.69" cy="106.62" r="1.85" fill="url(#g0)"/>
<circle cx="522.67" cy="101.97" r="1.85" fill="url(#g0)"/>
<circle cx="530.65" cy="96.88" r="1.85" fill="url(#g0)"/>
<circle cx="538.64" cy="91.35" r="1.85" fill="url(#g0)"/>
<circle cx="546.62" cy="85.38" r="1.85" fill="url(#g0)"/>
<circle cx="554.6" cy="78.97" r="1.85" fill="url(#g0)"/>
<circle cx="562.59" cy="72.12" r="1.85" fill="url(#g0)"/>
<circle cx="454.81" cy="125.98" r="1.85" fill="url(#g1)"/>
<circle cx="462.8" cy="124.36" r="1.85" fill="url(#g1)"/>
<circle cx="470.78" cy="122.09" r="1.85" fill="url(#g1)"/>
<circle cx="478.76" cy="119.26" r="1.85" fill="url(#g1)"/>
<circle cx="486.75" cy="115.93" r="1.85" fill="url(#g1)"/>
<circle cx="494.73" cy="112.14" r="1.85" fill="url(#g1)"/>
<circle cx="502.71" cy="107.91" r="1.85" fill="url(#g1)"/>
<circle cx="510.7" cy="103.23" r="1.85" fill="url(#g1)"/>
<circle cx="518.68" cy="98.11" r="1.85" fill="url(#g1)"/>
<circle cx="526.66" cy="92.55" r="1.85" fill="url(#g1)"/>
<circle cx="534.64" cy="86.54" r="1.85" fill="url(#g1)"/>
<circle cx="542.63" cy="80.1" r="1.85" fill="url(#g1)"/>
<circle cx="550.61" cy="73.22" r="1.85" fill="url(#g1)"/>
<circle cx="558.59" cy="65.9" r="1.85" fill="url(#g1)"/>
<circle cx="450.82" cy="126.53" r="1.85" fill="url(#g2)"/>
<circle cx="458.81" cy="125.1" r="1.85" fill="url(#g2)"/>
<circle cx="466.79" cy="122.72" r="1.85" fill="url(#g2)"/>
<circle cx="474.77" cy="119.45" r="1.85" fill="url(#g2)"/>
<circle cx="482.76" cy="115.47" r="1.85" fill="url(#g2)"/>
<circle cx="490.74" cy="111.01" r="1.85" fill="url(#g2)"/>
<circle cx="498.72" cy="106.18" r="1.85" fill="url(#g2)"/>
<circle cx="506.7" cy="100.98" r="1.85" fill="url(#g2)"/>
<circle cx="514.69" cy="95.36" r="1.85" fill="url(#g2)"/>
<circle cx="522.67" cy="89.32" r="1.85" fill="url(#g2)"/>
<circle cx="530.65" cy="82.84" r="1.85" fill="url(#g2)"/>
<circle cx="538.64" cy="75.92" r="1.85" fill="url(#g2)"/>
<circle cx="546.62" cy="68.56" r="1.85" fill="url(#g2)"/>
<circle cx="554.6" cy="60.76" r="1.85" fill="url(#g2)"/>
<circle cx="562.59" cy="52.52" r="1.85" fill="url(#g2)"/>
<circle cx="462.8" cy="119.91" r="1.85" fill="url(#g3)"/>
<circle cx="470.78" cy="117.42" r="1.85" fill="url(#g3)"/>
<circle cx="478.76" cy="114.13" r="1.85" fill="url(#g3)"/>
<circle cx="486.75" cy="110.05" r="1.85" fill="url(#g3)"/>
<circle cx="494.73" cy="105.24" r="1.85" fill="url(#g3)"/>
<circle cx="502.71" cy="99.78" r="1.85" fill="url(#g3)"/>
<circle cx="510.7" cy="93.76" r="1.85" fill="url(#g3)"/>
<circle cx="518.68" cy="87.25" r="1.85" fill="url(#g3)"/>
<circle cx="526.66" cy="80.28" r="1.85" fill="url(#g3)"/>
<circle cx="534.64" cy="72.88" r="1.85" fill="url(#g3)"/>
<circle cx="542.63" cy="65.03" r="1.85" fill="url(#g3)"/>
<circle cx="550.61" cy="56.75" r="1.85" fill="url(#g3)"/>
<circle cx="558.59" cy="48.03" r="1.85" fill="url(#g3)"/>
<circle cx="458.81" cy="120.86" r="1.85" fill="url(#g4)"/>
<circle cx="466.79" cy="118.76" r="1.85" fill="url(#g4)"/>
<circle cx="474.77" cy="115.84" r="1.85" fill="url(#g4)"/>
<circle cx="482.76" cy="111.98" r="1.85" fill="url(#g4)"/>
<circle cx="490.74" cy="107.07" r="1.85" fill="url(#g4)"/>
<circle cx="498.72" cy="101.11" r="1.85" fill="url(#g4)"/>
<circle cx="506.7" cy="94.29" r="1.85" fill="url(#g4)"/>
<circle cx="514.69" cy="86.91" r="1.85" fill="url(#g4)"/>
<circle cx="522.67" cy="79.17" r="1.85" fill="url(#g4)"/>
<circle cx="530.65" cy="71.13" r="1.85" fill="url(#g4)"/>
<circle cx="538.64" cy="62.73" r="1.85" fill="url(#g4)"/>
<circle cx="546.62" cy="53.93" r="1.85" fill="url(#g4)"/>
<circle cx="554.6" cy="44.71" r="1.85" fill="url(#g4)"/>
<circle cx="562.59" cy="35.05" r="1.85" fill="url(#g4)"/>
</g>
<g clip-path="url(#cb3)">
<circle cx="454.81" cy="231.87" r="1.85" fill="url(#g1)"/>
<circle cx="462.8" cy="231.24" r="1.85" fill="url(#g1)"/>
<circle cx="470.78" cy="230.1" r="1.85" fill="url(#g1)"/>
<circle cx="478.76" cy="228.61" r="1.85" fill="url(#g1)"/>
<circle cx="486.75" cy="226.95" r="1.85" fill="url(#g1)"/>
<circle cx="494.73" cy="225.23" r="1.85" fill="url(#g1)"/>
<circle cx="502.71" cy="223.5" r="1.85" fill="url(#g1)"/>
<circle cx="510.7" cy="221.76" r="1.85" fill="url(#g1)"/>
<circle cx="518.68" cy="220.03" r="1.85" fill="url(#g1)"/>
<circle cx="526.66" cy="218.3" r="1.85" fill="url(#g1)"/>
<circle cx="534.64" cy="216.56" r="1.85" fill="url(#g1)"/>
<circle cx="542.63" cy="214.83" r="1.85" fill="url(#g1)"/>
<circle cx="550.61" cy="213.1" r="1.85" fill="url(#g1)"/>
<circle cx="558.59" cy="211.37" r="1.85" fill="url(#g1)"/>
<circle cx="450.82" cy="231.8" r="1.85" fill="url(#g2)"/>
<circle cx="458.81" cy="231.1" r="1.85" fill="url(#g2)"/>
<circle cx="466.79" cy="229.15" r="1.85" fill="url(#g2)"/>
<circle cx="474.77" cy="226.01" r="1.85" fill="url(#g2)"/>
<circle cx="482.76" cy="222.18" r="1.85" fill="url(#g2)"/>
<circle cx="490.74" cy="218.23" r="1.85" fill="url(#g2)"/>
<circle cx="498.72" cy="214.48" r="1.85" fill="url(#g2)"/>
<circle cx="506.7" cy="210.89" r="1.85" fill="url(#g2)"/>
<circle cx="514.69" cy="207.36" r="1.85" fill="url(#g2)"/>
<circle cx="522.67" cy="203.87" r="1.85" fill="url(#g2)"/>
<circle cx="530.65" cy="200.38" r="1.85" fill="url(#g2)"/>
<circle cx="538.64" cy="196.91" r="1.85" fill="url(#g2)"/>
<circle cx="546.62" cy="193.43" r="1.85" fill="url(#g2)"/>
<circle cx="554.6" cy="189.96" r="1.85" fill="url(#g2)"/>
<circle cx="562.59" cy="186.5" r="1.85" fill="url(#g2)"/>
<circle cx="462.8" cy="220.13" r="1.85" fill="url(#g3)"/>
<circle cx="470.78" cy="218.43" r="1.85" fill="url(#g3)"/>
<circle cx="478.76" cy="215.78" r="1.85" fill="url(#g3)"/>
<circle cx="486.75" cy="212.24" r="1.85" fill="url(#g3)"/>
<circle cx="494.73" cy="207.97" r="1.85" fill="url(#g3)"/>
<circle cx="502.71" cy="203.18" r="1.85" fill="url(#g3)"/>
<circle cx="510.7" cy="198.1" r="1.85" fill="url(#g3)"/>
<circle cx="518.68" cy="192.89" r="1.85" fill="url(#g3)"/>
<circle cx="526.66" cy="187.64" r="1.85" fill="url(#g3)"/>
<circle cx="534.64" cy="182.39" r="1.85" fill="url(#g3)"/>
<circle cx="542.63" cy="177.15" r="1.85" fill="url(#g3)"/>
<circle cx="550.61" cy="171.92" r="1.85" fill="url(#g3)"/>
<circle cx="558.59" cy="166.7" r="1.85" fill="url(#g3)"/>
<circle cx="458.81" cy="220.5" r="1.85" fill="url(#g4)"/>
<circle cx="466.79" cy="219.26" r="1.85" fill="url(#g4)"/>
<circle cx="474.77" cy="216.99" r="1.85" fill="url(#g4)"/>
<circle cx="482.76" cy="213.46" r="1.85" fill="url(#g4)"/>
<circle cx="490.74" cy="208.39" r="1.85" fill="url(#g4)"/>
<circle cx="498.72" cy="201.8" r="1.85" fill="url(#g4)"/>
<circle cx="506.7" cy="194.18" r="1.85" fill="url(#g4)"/>
<circle cx="514.69" cy="186.22" r="1.85" fill="url(#g4)"/>
<circle cx="522.67" cy="178.49" r="1.85" fill="url(#g4)"/>
<circle cx="530.65" cy="171.11" r="1.85" fill="url(#g4)"/>
<circle cx="538.64" cy="163.93" r="1.85" fill="url(#g4)"/>
<circle cx="546.62" cy="156.86" r="1.85" fill="url(#g4)"/>
<circle cx="554.6" cy="149.83" r="1.85" fill="url(#g4)"/>
<circle cx="562.59" cy="142.83" r="1.85" fill="url(#g4)"/>
</g>
<g clip-path="url(#ct4)">
<circle cx="574.56" cy="128.55" r="1.85" fill="url(#g0)"/>
<circle cx="582.54" cy="127.94" r="1.85" fill="url(#g0)"/>
<circle cx="590.53" cy="126.83" r="1.85" fill="url(#g0)"/>
<circle cx="598.51" cy="125.32" r="1.85" fill="url(#g0)"/>
<circle cx="606.49" cy="123.37" r="1.85" fill="url(#g0)"/>
<circle cx="614.48" cy="121" r="1.85" fill="url(#g0)"/>
<circle cx="622.46" cy="118.19" r="1.85" fill="url(#g0)"/>
<circle cx="630.44" cy="114.96" r="1.85" fill="url(#g0)"/>
<circle cx="638.42" cy="111.29" r="1.85" fill="url(#g0)"/>
<circle cx="646.41" cy="107.19" r="1.85" fill="url(#g0)"/>
<circle cx="654.39" cy="102.66" r="1.85" fill="url(#g0)"/>
<circle cx="662.37" cy="97.7" r="1.85" fill="url(#g0)"/>
<circle cx="670.36" cy="92.31" r="1.85" fill="url(#g0)"/>
<circle cx="678.34" cy="86.48" r="1.85" fill="url(#g0)"/>
<circle cx="686.32" cy="80.23" r="1.85" fill="url(#g0)"/>
<circle cx="694.31" cy="73.54" r="1.85" fill="url(#g0)"/>
<circle cx="586.53" cy="126.49" r="1.85" fill="url(#g1)"/>
<circle cx="594.52" cy="124.67" r="1.85" fill="url(#g1)"/>
<circle cx="602.5" cy="122.31" r="1.85" fill="url(#g1)"/>
<circle cx="610.48" cy="119.5" r="1.85" fill="url(#g1)"/>
<circle cx="618.47" cy="116.25" r="1.85" fill="url(#g1)"/>
<circle cx="626.45" cy="112.58" r="1.85" fill="url(#g1)"/>
<circle cx="634.43" cy="108.47" r="1.85" fill="url(#g1)"/>
<circle cx="642.42" cy="103.93" r="1.85" fill="url(#g1)"/>
<circle cx="650.4" cy="98.97" r="1.85" fill="url(#g1)"/>
<circle cx="658.38" cy="93.57" r="1.85" fill="url(#g1)"/>
<circle cx="666.36" cy="87.74" r="1.85" fill="url(#g1)"/>
<circle cx="674.35" cy="81.48" r="1.85" fill="url(#g1)"/>
<circle cx="682.33" cy="74.78" r="1.85" fill="url(#g1)"/>
<circle cx="690.31" cy="67.66" r="1.85" fill="url(#g1)"/>
<circle cx="582.54" cy="127.09" r="1.85" fill="url(#g2)"/>
<circle cx="590.53" cy="125.21" r="1.85" fill="url(#g2)"/>
<circle cx="598.51" cy="122.34" r="1.85" fill="url(#g2)"/>
<circle cx="606.49" cy="118.96" r="1.85" fill="url(#g2)"/>
<circle cx="614.48" cy="115.24" r="1.85" fill="url(#g2)"/>
<circle cx="622.46" cy="111.12" r="1.85" fill="url(#g2)"/>
<circle cx="630.44" cy="106.57" r="1.85" fill="url(#g2)"/>
<circle cx="638.42" cy="101.59" r="1.85" fill="url(#g2)"/>
<circle cx="646.41" cy="96.18" r="1.85" fill="url(#g2)"/>
<circle cx="654.39" cy="90.34" r="1.85" fill="url(#g2)"/>
<circle cx="662.37" cy="84.07" r="1.85" fill="url(#g2)"/>
<circle cx="670.36" cy="77.37" r="1.85" fill="url(#g2)"/>
<circle cx="678.34" cy="70.24" r="1.85" fill="url(#g2)"/>
<circle cx="686.32" cy="62.68" r="1.85" fill="url(#g2)"/>
<circle cx="694.31" cy="54.69" r="1.85" fill="url(#g2)"/>
<circle cx="594.52" cy="122.11" r="1.85" fill="url(#g3)"/>
<circle cx="602.5" cy="119.03" r="1.85" fill="url(#g3)"/>
<circle cx="610.48" cy="115.12" r="1.85" fill="url(#g3)"/>
<circle cx="618.47" cy="110.59" r="1.85" fill="url(#g3)"/>
<circle cx="626.45" cy="105.6" r="1.85" fill="url(#g3)"/>
<circle cx="634.43" cy="100.17" r="1.85" fill="url(#g3)"/>
<circle cx="642.42" cy="94.32" r="1.85" fill="url(#g3)"/>
<circle cx="650.4" cy="88.04" r="1.85" fill="url(#g3)"/>
<circle cx="658.38" cy="81.33" r="1.85" fill="url(#g3)"/>
<circle cx="666.36" cy="74.19" r="1.85" fill="url(#g3)"/>
<circle cx="674.35" cy="66.62" r="1.85" fill="url(#g3)"/>
<circle cx="682.33" cy="58.61" r="1.85" fill="url(#g3)"/>
<circle cx="690.31" cy="50.18" r="1.85" fill="url(#g3)"/>
<circle cx="590.53" cy="123.29" r="1.85" fill="url(#g4)"/>
<circle cx="598.51" cy="120.59" r="1.85" fill="url(#g4)"/>
<circle cx="606.49" cy="116.56" r="1.85" fill="url(#g4)"/>
<circle cx="614.48" cy="111.39" r="1.85" fill="url(#g4)"/>
<circle cx="622.46" cy="105.69" r="1.85" fill="url(#g4)"/>
<circle cx="630.44" cy="99.73" r="1.85" fill="url(#g4)"/>
<circle cx="638.42" cy="93.41" r="1.85" fill="url(#g4)"/>
<circle cx="646.41" cy="86.67" r="1.85" fill="url(#g4)"/>
<circle cx="654.39" cy="79.51" r="1.85" fill="url(#g4)"/>
<circle cx="662.37" cy="71.92" r="1.85" fill="url(#g4)"/>
<circle cx="670.36" cy="63.91" r="1.85" fill="url(#g4)"/>
<circle cx="678.34" cy="55.47" r="1.85" fill="url(#g4)"/>
<circle cx="686.32" cy="46.59" r="1.85" fill="url(#g4)"/>
<circle cx="694.31" cy="37.29" r="1.85" fill="url(#g4)"/>
</g>
<g clip-path="url(#cb4)">
<circle cx="586.53" cy="233.25" r="1.85" fill="url(#g1)"/>
<circle cx="594.52" cy="231.99" r="1.85" fill="url(#g1)"/>
<circle cx="602.5" cy="230.42" r="1.85" fill="url(#g1)"/>
<circle cx="610.48" cy="228.78" r="1.85" fill="url(#g1)"/>
<circle cx="618.47" cy="227.15" r="1.85" fill="url(#g1)"/>
<circle cx="626.45" cy="225.51" r="1.85" fill="url(#g1)"/>
<circle cx="634.43" cy="223.87" r="1.85" fill="url(#g1)"/>
<circle cx="642.42" cy="222.24" r="1.85" fill="url(#g1)"/>
<circle cx="650.4" cy="220.6" r="1.85" fill="url(#g1)"/>
<circle cx="658.38" cy="218.97" r="1.85" fill="url(#g1)"/>
<circle cx="666.36" cy="217.34" r="1.85" fill="url(#g1)"/>
<circle cx="674.35" cy="215.7" r="1.85" fill="url(#g1)"/>
<circle cx="682.33" cy="214.07" r="1.85" fill="url(#g1)"/>
<circle cx="690.31" cy="212.43" r="1.85" fill="url(#g1)"/>
<circle cx="582.54" cy="233.37" r="1.85" fill="url(#g2)"/>
<circle cx="590.53" cy="231.45" r="1.85" fill="url(#g2)"/>
<circle cx="598.51" cy="228.06" r="1.85" fill="url(#g2)"/>
<circle cx="606.49" cy="224.47" r="1.85" fill="url(#g2)"/>
<circle cx="614.48" cy="221.11" r="1.85" fill="url(#g2)"/>
<circle cx="622.46" cy="217.81" r="1.85" fill="url(#g2)"/>
<circle cx="630.44" cy="214.53" r="1.85" fill="url(#g2)"/>
<circle cx="638.42" cy="211.26" r="1.85" fill="url(#g2)"/>
<circle cx="646.41" cy="207.98" r="1.85" fill="url(#g2)"/>
<circle cx="654.39" cy="204.71" r="1.85" fill="url(#g2)"/>
<circle cx="662.37" cy="201.44" r="1.85" fill="url(#g2)"/>
<circle cx="670.36" cy="198.17" r="1.85" fill="url(#g2)"/>
<circle cx="678.34" cy="194.9" r="1.85" fill="url(#g2)"/>
<circle cx="686.32" cy="191.63" r="1.85" fill="url(#g2)"/>
<circle cx="694.31" cy="188.36" r="1.85" fill="url(#g2)"/>
<circle cx="594.52" cy="225.6" r="1.85" fill="url(#g3)"/>
<circle cx="602.5" cy="222.22" r="1.85" fill="url(#g3)"/>
<circle cx="610.48" cy="217.83" r="1.85" fill="url(#g3)"/>
<circle cx="618.47" cy="213" r="1.85" fill="url(#g3)"/>
<circle cx="626.45" cy="208.06" r="1.85" fill="url(#g3)"/>
<circle cx="634.43" cy="203.13" r="1.85" fill="url(#g3)"/>
<circle cx="642.42" cy="198.2" r="1.85" fill="url(#g3)"/>
<circle cx="650.4" cy="193.29" r="1.85" fill="url(#g3)"/>
<circle cx="658.38" cy="188.37" r="1.85" fill="url(#g3)"/>
<circle cx="666.36" cy="183.46" r="1.85" fill="url(#g3)"/>
<circle cx="674.35" cy="178.55" r="1.85" fill="url(#g3)"/>
<circle cx="682.33" cy="173.64" r="1.85" fill="url(#g3)"/>
<circle cx="690.31" cy="168.74" r="1.85" fill="url(#g3)"/>
<circle cx="590.53" cy="226.64" r="1.85" fill="url(#g4)"/>
<circle cx="598.51" cy="223.68" r="1.85" fill="url(#g4)"/>
<circle cx="606.49" cy="218.46" r="1.85" fill="url(#g4)"/>
<circle cx="614.48" cy="211.48" r="1.85" fill="url(#g4)"/>
<circle cx="622.46" cy="204.25" r="1.85" fill="url(#g4)"/>
<circle cx="630.44" cy="197.44" r="1.85" fill="url(#g4)"/>
<circle cx="638.42" cy="190.8" r="1.85" fill="url(#g4)"/>
<circle cx="646.41" cy="184.2" r="1.85" fill="url(#g4)"/>
<circle cx="654.39" cy="177.63" r="1.85" fill="url(#g4)"/>
<circle cx="662.37" cy="171.07" r="1.85" fill="url(#g4)"/>
<circle cx="670.36" cy="164.51" r="1.85" fill="url(#g4)"/>
<circle cx="678.34" cy="157.96" r="1.85" fill="url(#g4)"/>
<circle cx="686.32" cy="151.41" r="1.85" fill="url(#g4)"/>
<circle cx="694.31" cy="144.86" r="1.85" fill="url(#g4)"/>
</g>
<g clip-path="url(#ct0)" fill="none" stroke-width="1.5">
<polyline points="47.68,128.55 51.67,128.1 55.66,127.52 59.65,126.81 63.65,125.97 67.64,125 71.63,123.9 75.62,122.67 79.61,121.31 83.6,119.82 87.6,118.2 91.59,116.45 95.58,114.57 99.57,112.55 103.56,110.41 107.55,108.14 111.54,105.74 115.54,103.21 119.53,100.54 123.52,97.75 127.51,94.83 131.5,91.77 135.49,88.59 139.48,85.28 143.48,81.83 147.47,78.26 151.46,74.55 155.45,70.72 159.44,66.75 163.43,62.66 167.43,58.43" stroke="#000000"/>
<polyline points="47.68,128.55 51.67,127.46 55.66,126.25 59.65,124.9 63.65,123.42 67.64,121.81 71.63,120.07 75.62,118.21 79.61,116.21 83.6,114.08 87.6,111.82 91.59,109.43 95.58,106.91 99.57,104.26 103.56,101.48 107.55,98.57 111.54,95.53 115.54,92.36 119.53,89.06 123.52,85.63 127.51,82.07 131.5,78.38 135.49,74.55 139.48,70.6 143.48,66.52 147.47,62.31 151.46,57.97 155.45,53.49 159.44,48.89 163.43,44.16 167.43,39.29" stroke="#ff0000"/>
<polyline points="47.68,128.55 51.67,126.82 55.66,124.97 59.65,122.98 63.65,120.87 67.64,118.62 71.63,116.25 75.62,113.74 79.61,111.1 83.6,108.34 87.6,105.44 91.59,102.41 95.58,99.25 99.57,95.97 103.56,92.55 107.55,89 111.54,85.32 115.54,81.51 119.53,77.57 123.52,73.51 127.51,69.31 131.5,64.98 135.49,60.52 139.48,55.93 143.48,51.21 147.47,46.36 151.46,41.38 155.45,36.27 159.44,31.03 163.43,25.65 167.43,20.15" stroke="#0000ff"/>
<polyline points="47.68,128.55 51.67,126.19 55.66,123.69 59.65,121.07 63.65,118.32 67.64,115.43 71.63,112.42 75.62,109.27 79.61,106 83.6,102.59 87.6,99.06 91.59,95.39 95.58,91.6 99.57,87.67 103.56,83.62 107.55,79.43 111.54,75.11 115.54,70.67 119.53,66.09 123.52,61.38 127.51,56.55 131.5,51.58 135.49,46.48 139.48,41.25 143.48,35.9 147.47,30.41 151.46,24.79 155.45,19.04 159.44,13.16 163.43,7.15 167.43,1.01" stroke="#008000"/>
<polyline points="47.68,128.55 51.67,125.55 55.66,122.42 59.65,119.16 63.65,115.76 67.64,112.24 71.63,108.59 75.62,104.81 79.61,100.89 83.6,96.85 87.6,92.68 91.59,88.37 95.58,83.94 99.57,79.38 103.56,74.68 107.55,69.86 111.54,64.91 115.54,59.82 119.53,54.61 123.52,49.26 127.51,43.79 131.5,38.18 135.49,32.45 139.48,26.58 143.48,20.58 147.47,14.46 151.46,8.2 155.45,1.81 159.44,-4.7 163.43,-11.35 167.43,-18.13" stroke="#ff8000"/>
</g>
<g clip-path="url(#cb0)" fill="none" stroke-width="1.5">
<polyline points="47.68,235.5 163.43,189.24" stroke="#ff0000"/>
<polyline points="47.68,235.5 167.43,139.8" stroke="#0000ff"/>
<polyline points="47.68,235.5 163.43,96.73" stroke="#008000"/>
<polyline points="47.68,235.5 167.43,44.1" stroke="#ff8000"/>
</g>
<g clip-path="url(#ct1)" fill="none" stroke-width="1.5">
<polyline points="179.4,128.55 183.39,128.2 187.38,127.73 191.37,127.14 195.37,126.42 199.36,125.59 203.35,124.63 207.34,123.56 211.33,122.36 215.32,121.04 219.32,119.6 223.31,118.04 227.3,116.36 231.29,114.55 235.28,112.63 239.27,110.58 243.26,108.42 247.26,106.13 251.25,103.72 255.24,101.19 259.23,98.54 263.22,95.77 267.21,92.87 271.2,89.86 275.2,86.72 279.19,83.47 283.18,80.09 287.17,76.59 291.16,72.97 295.15,69.23 299.15,65.37" stroke="#000000"/>
<polyline points="179.4,128.55 183.39,127.74 187.38,126.81 191.37,125.76 195.37,124.59 199.36,123.3 203.35,121.89 207.34,120.35 211.33,118.7 215.32,116.92 219.32,115.02 223.31,113.01 227.3,110.87 231.29,108.6 235.28,106.22 239.27,103.72 243.26,101.09 247.26,98.35 251.25,95.48 255.24,92.5 259.23,89.39 263.22,86.16 267.21,82.81 271.2,79.33 275.2,75.74 279.19,72.03 283.18,68.19 287.17,64.23 291.16,60.16 295.15,55.96 299.15,51.64" stroke="#ff0000"/>
<polyline points="179.4,128.55 183.39,127.28 187.38,125.9 191.37,124.39 195.37,122.76 199.36,121.01 203.35,119.14 207.34,117.15 211.33,115.04 215.32,112.8 219.32,110.45 223.31,107.97 227.3,105.37 231.29,102.66 235.28,99.82 239.27,96.85 243.26,93.77 247.26,90.57 251.25,87.25 255.24,83.8 259.23,80.23 263.22,76.55 267.21,72.74 271.2,68.81 275.2,64.76 279.19,60.58 283.18,56.29 287.17,51.88 291.16,47.34 295.15,42.69 299.15,37.91" stroke="#0000ff"/>
<polyline points="179.4,128.55 183.39,126.83 187.38,124.98 191.37,123.02 195.37,120.93 199.36,118.72 203.35,116.4 207.34,113.95 211.33,111.38 215.32,108.68 219.32,105.87 223.31,102.94 227.3,99.88 231.29,96.71 235.28,93.41 239.27,89.99 243.26,86.45 247.26,82.79 251.25,79.01 255.24,75.1 259.23,71.08 263.22,66.94 267.21,62.67 271.2,58.28 275.2,53.77 279.19,49.14 283.18,44.39 287.17,39.52 291.16,34.53 295.15,29.41 299.15,24.18" stroke="#008000"/>
<polyline points="179.4,128.55 183.39,126.37 187.38,124.07 191.37,121.65 195.37,119.1 199.36,116.44 203.35,113.65 207.34,110.74 211.33,107.71 215.32,104.57 219.32,101.3 223.31,97.9 227.3,94.39 231.29,90.76 235.28,87 239.27,83.13 243.26,79.13 247.26,75.01 251.25,70.77 255.24,66.41 259.23,61.93 263.22,57.33 267.21,52.6 271.2,47.76 275.2,42.79 279.19,37.7 283.18,32.49 287.17,27.16 291.16,21.71 295.15,16.14 299.15,10.45" stroke="#ff8000"/>
</g>
<g clip-path="url(#cb1)" fill="none" stroke-width="1.5">
<polyline points="179.4,235.5 295.15,202.32" stroke="#ff0000"/>
<polyline points="179.4,235.5 299.15,166.86" stroke="#0000ff"/>
<polyline points="179.4,235.5 295.15,135.96" stroke="#008000"/>
<polyline points="179.4,235.5 299.15,98.21" stroke="#ff8000"/>
</g>
<g clip-path="url(#ct2)" fill="none" stroke-width="1.5">
<polyline points="311.12,128.55 315.11,128.24 319.1,127.82 323.09,127.29 327.09,126.64 331.08,125.87 335.07,124.99 339.06,124 343.05,122.89 347.04,121.67 351.04,120.33 355.03,118.87 359.02,117.31 363.01,115.63 367,113.83 370.99,111.92 374.98,109.89 378.98,107.75 382.97,105.5 386.96,103.13 390.95,100.64 394.94,98.04 398.93,95.33 402.92,92.5 406.92,89.56 410.91,86.5 414.9,83.33 418.89,80.04 422.88,76.64 426.87,73.12 430.87,69.49" stroke="#000000"/>
<polyline points="311.12,128.55 315.11,127.86 319.1,127.06 323.09,126.14 327.09,125.1 331.08,123.95 335.07,122.69 339.06,121.31 343.05,119.82 347.04,118.21 351.04,116.49 355.03,114.66 359.02,112.7 363.01,110.64 367,108.46 370.99,106.16 374.98,103.76 378.98,101.23 382.97,98.59 386.96,95.84 390.95,92.97 394.94,89.99 398.93,86.89 402.92,83.68 406.92,80.35 410.91,76.91 414.9,73.36 418.89,69.69 422.88,65.9 426.87,62 430.87,57.99" stroke="#ff0000"/>
<polyline points="311.12,128.55 315.11,127.48 319.1,126.29 323.09,124.99 327.09,123.57 331.08,122.04 335.07,120.39 339.06,118.63 343.05,116.75 347.04,114.76 351.04,112.66 355.03,110.44 359.02,108.1 363.01,105.65 367,103.09 370.99,100.41 374.98,97.62 378.98,94.71 382.97,91.69 386.96,88.55 390.95,85.3 394.94,81.93 398.93,78.45 402.92,74.86 406.92,71.15 410.91,67.32 414.9,63.38 418.89,59.33 422.88,55.16 426.87,50.88 430.87,46.48" stroke="#0000ff"/>
<polyline points="311.12,128.55 315.11,127.09 319.1,125.52 323.09,123.83 327.09,122.03 331.08,120.12 335.07,118.09 339.06,115.94 343.05,113.68 347.04,111.31 351.04,108.82 355.03,106.22 359.02,103.5 363.01,100.67 367,97.72 370.99,94.66 374.98,91.48 378.98,88.19 382.97,84.78 386.96,81.26 390.95,77.63 394.94,73.88 398.93,70.02 402.92,66.04 406.92,61.94 410.91,57.73 414.9,53.41 418.89,48.97 422.88,44.42 426.87,39.76 430.87,34.97" stroke="#008000"/>
<polyline points="311.12,128.55 315.11,126.71 319.1,124.75 323.09,122.68 327.09,120.5 331.08,118.2 335.07,115.79 339.06,113.26 343.05,110.62 347.04,107.86 351.04,104.99 355.03,102 359.02,98.9 363.01,95.68 367,92.35 370.99,88.9 374.98,85.34 378.98,81.67 382.97,77.88 386.96,73.98 390.95,69.96 394.94,65.82 398.93,61.58 402.92,57.21 406.92,52.74 410.91,48.15 414.9,43.44 418.89,38.62 422.88,33.68 426.87,28.63 430.87,23.47" stroke="#ff8000"/>
</g>
<g clip-path="url(#cb2)" fill="none" stroke-width="1.5">
<polyline points="311.12,235.5 426.87,207.69" stroke="#ff0000"/>
<polyline points="311.12,235.5 430.87,177.97" stroke="#0000ff"/>
<polyline points="311.12,235.5 426.87,152.08" stroke="#008000"/>
<polyline points="311.12,235.5 430.87,120.43" stroke="#ff8000"/>
</g>
<g clip-path="url(#ct3)" fill="none" stroke-width="1.5">
<polyline points="442.84,128.55 446.83,128.27 450.82,127.87 454.81,127.37 458.81,126.76 462.8,126.03 466.79,125.2 470.78,124.25 474.77,123.2 478.76,122.03 482.76,120.76 486.75,119.37 490.74,117.87 494.73,116.27 498.72,114.55 502.71,112.72 506.7,110.79 510.7,108.74 514.69,106.58 518.68,104.31 522.67,101.94 526.66,99.45 530.65,96.85 534.64,94.14 538.64,91.32 542.63,88.39 546.62,85.35 550.61,82.2 554.6,78.94 558.59,75.57 562.59,72.09" stroke="#000000"/>
<polyline points="442.84,128.55 446.83,127.92 450.82,127.18 454.81,126.33 458.81,125.37 462.8,124.3 466.79,123.12 470.78,121.83 474.77,120.43 478.76,118.92 482.76,117.3 486.75,115.57 490.74,113.73 494.73,111.78 498.72,109.71 502.71,107.54 506.7,105.26 510.7,102.86 514.69,100.36 518.68,97.75 522.67,95.02 526.66,92.19 530.65,89.24 534.64,86.19 538.64,83.03 542.63,79.75 546.62,76.36 550.61,72.87 554.6,69.26 558.59,65.55 562.59,61.72" stroke="#ff0000"/>
<polyline points="442.84,128.55 446.83,127.58 450.82,126.49 454.81,125.3 458.81,123.99 462.8,122.58 466.79,121.05 470.78,119.41 474.77,117.67 478.76,115.81 482.76,113.84 486.75,111.77 490.74,109.58 494.73,107.28 498.72,104.87 502.71,102.36 506.7,99.73 510.7,96.99 514.69,94.14 518.68,91.18 522.67,88.11 526.66,84.93 530.65,81.64 534.64,78.24 538.64,74.73 542.63,71.11 546.62,67.38 550.61,63.54 554.6,59.58 558.59,55.52 562.59,51.35" stroke="#0000ff"/>
<polyline points="442.84,128.55 446.83,127.23 450.82,125.8 454.81,124.26 458.81,122.61 462.8,120.85 466.79,118.98 470.78,116.99 474.77,114.9 478.76,112.7 482.76,110.39 486.75,107.97 490.74,105.43 494.73,102.79 498.72,100.04 502.71,97.17 506.7,94.2 510.7,91.11 514.69,87.92 518.68,84.61 522.67,81.2 526.66,77.67 530.65,74.04 534.64,70.29 538.64,66.44 542.63,62.47 546.62,58.39 550.61,54.2 554.6,49.91 558.59,45.5 562.59,40.98" stroke="#008000"/>
<polyline points="442.84,128.55 446.83,126.88 450.82,125.11 454.81,123.22 458.81,121.23 462.8,119.12 466.79,116.9 470.78,114.58 474.77,112.14 478.76,109.59 482.76,106.93 486.75,104.16 490.74,101.29 494.73,98.3 498.72,95.2 502.71,91.99 506.7,88.67 510.7,85.24 514.69,81.7 518.68,78.05 522.67,74.29 526.66,70.42 530.65,66.43 534.64,62.34 538.64,58.14 542.63,53.83 546.62,49.41 550.61,44.87 554.6,40.23 558.59,35.48 562.59,30.61" stroke="#ff8000"/>
</g>
<g clip-path="url(#cb3)" fill="none" stroke-width="1.5">
<polyline points="442.84,235.5 558.59,210.44" stroke="#ff0000"/>
<polyline points="442.84,235.5 562.59,183.66" stroke="#0000ff"/>
<polyline points="442.84,235.5 558.59,160.33" stroke="#008000"/>
<polyline points="442.84,235.5 562.59,131.81" stroke="#ff8000"/>
</g>
<g clip-path="url(#ct4)" fill="none" stroke-width="1.5">
<polyline points="574.56,128.55 578.55,128.28 582.54,127.9 586.53,127.41 590.53,126.82 594.52,126.12 598.51,125.31 602.5,124.39 606.49,123.36 610.48,122.23 614.48,120.99 618.47,119.64 622.46,118.18 626.45,116.62 630.44,114.95 634.43,113.17 638.42,111.28 642.42,109.28 646.41,107.18 650.4,104.97 654.39,102.65 658.38,100.23 662.37,97.69 666.36,95.05 670.36,92.3 674.35,89.44 678.34,86.48 682.33,83.4 686.32,80.22 690.31,76.93 694.31,73.54" stroke="#000000"/>
<polyline points="574.56,128.55 578.55,127.95 582.54,127.25 586.53,126.43 590.53,125.51 594.52,124.48 598.51,123.35 602.5,122.1 606.49,120.75 610.48,119.29 614.48,117.72 618.47,116.05 622.46,114.26 626.45,112.37 630.44,110.37 634.43,108.27 638.42,106.05 642.42,103.73 646.41,101.3 650.4,98.76 654.39,96.12 658.38,93.37 662.37,90.5 666.36,87.54 670.36,84.46 674.35,81.28 678.34,77.98 682.33,74.58 686.32,71.08 690.31,67.46 694.31,63.74" stroke="#ff0000"/>
<polyline points="574.56,128.55 578.55,127.63 582.54,126.59 586.53,125.45 590.53,124.21 594.52,122.85 598.51,121.39 602.5,119.82 606.49,118.14 610.48,116.35 614.48,114.46 618.47,112.45 622.46,110.34 626.45,108.13 630.44,105.8 634.43,103.37 638.42,100.83 642.42,98.18 646.41,95.42 650.4,92.56 654.39,89.59 658.38,86.51 662.37,83.32 666.36,80.02 670.36,76.62 674.35,73.11 678.34,69.49 682.33,65.76 686.32,61.93 690.31,57.99 694.31,53.94" stroke="#0000ff"/>
<polyline points="574.56,128.55 578.55,127.3 582.54,125.94 586.53,124.47 590.53,122.9 594.52,121.22 598.51,119.43 602.5,117.53 606.49,115.52 610.48,113.41 614.48,111.19 618.47,108.86 622.46,106.42 626.45,103.88 630.44,101.23 634.43,98.47 638.42,95.6 642.42,92.62 646.41,89.54 650.4,86.35 654.39,83.05 658.38,79.65 662.37,76.13 666.36,72.51 670.36,68.78 674.35,64.94 678.34,61 682.33,56.94 686.32,52.78 690.31,48.51 694.31,44.14" stroke="#008000"/>
<polyline points="574.56,128.55 578.55,126.97 582.54,125.29 586.53,123.49 590.53,121.59 594.52,119.58 598.51,117.47 602.5,115.24 606.49,112.91 610.48,110.47 614.48,107.92 618.47,105.27 622.46,102.5 626.45,99.63 630.44,96.65 634.43,93.57 638.42,90.37 642.42,87.07 646.41,83.66 650.4,80.14 654.39,76.52 658.38,72.79 662.37,68.94 666.36,65 670.36,60.94 674.35,56.78 678.34,52.5 682.33,48.12 686.32,43.64 690.31,39.04 694.31,34.34" stroke="#ff8000"/>
</g>
<g clip-path="url(#cb4)" fill="none" stroke-width="1.5">
<polyline points="574.56,235.5 690.31,211.82" stroke="#ff0000"/>
<polyline points="574.56,235.5 694.31,186.5" stroke="#0000ff"/>
<polyline points="574.56,235.5 690.31,164.45" stroke="#008000"/>
<polyline points="574.56,235.5 694.31,137.5" stroke="#ff8000"/>
</g>
</svg>
</body></html>
